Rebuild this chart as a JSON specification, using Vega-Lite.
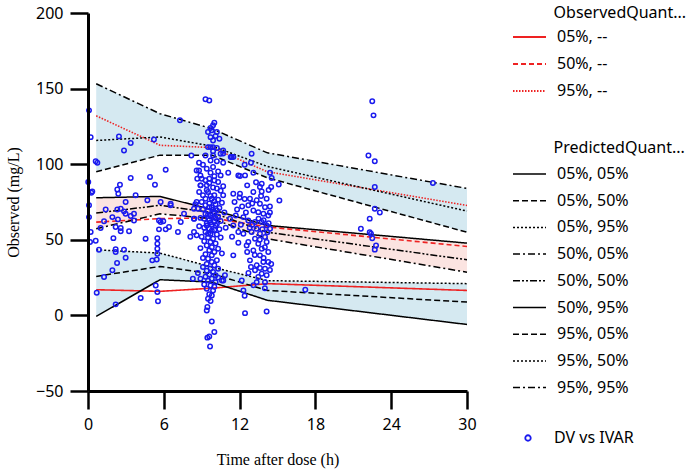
{
  "$schema": "https://vega.github.io/schema/vega-lite/v6.json",
  "width": 379,
  "height": 378,
  "autosize": "none",
  "padding": {"left": 88, "top": 13, "right": 232, "bottom": 80},
  "background": "white",
  "datasets": {
    "bands": [
      {"t":0.65,"band":"upper","lo":95,"hi":153.2},{"t":5.7,"band":"upper","lo":106,"hi":133.4},{"t":9.8,"band":"upper","lo":106,"hi":123.5},{"t":14.2,"band":"upper","lo":91,"hi":107.5},{"t":30,"band":"upper","lo":55,"hi":84},
      {"t":0.65,"band":"mid","lo":57.3,"hi":77.8},{"t":5.7,"band":"mid","lo":67.2,"hi":78.7},{"t":9.8,"band":"mid","lo":64,"hi":70},{"t":14.2,"band":"mid","lo":50.7,"hi":59.5},{"t":30,"band":"mid","lo":28.6,"hi":47.8},
      {"t":0.65,"band":"lower","lo":-0.7,"hi":43.4},{"t":5.7,"band":"lower","lo":23.6,"hi":41.2},{"t":9.8,"band":"lower","lo":22,"hi":32},{"t":14.2,"band":"lower","lo":10,"hi":23},{"t":30,"band":"lower","lo":-6,"hi":21}
    ],
    "obs": [
      {"t":0.65,"q":"05%, --","v":17},{"t":5.7,"q":"05%, --","v":15.9},{"t":9.8,"q":"05%, --","v":18},{"t":14.2,"q":"05%, --","v":21},{"t":30,"q":"05%, --","v":16.5},
      {"t":0.65,"q":"50%, --","v":61.7},{"t":5.7,"q":"50%, --","v":64},{"t":9.8,"q":"50%, --","v":64.5},{"t":14.2,"q":"50%, --","v":58.5},{"t":30,"q":"50%, --","v":45.6},
      {"t":0.65,"q":"95%, --","v":132},{"t":5.7,"q":"95%, --","v":112.5},{"t":9.8,"q":"95%, --","v":111},{"t":14.2,"q":"95%, --","v":95},{"t":30,"q":"95%, --","v":72.7}
    ],
    "pred": [
      {"t":0.65,"q":"05%, 05%","v":-0.7},{"t":5.7,"q":"05%, 05%","v":23.6},{"t":9.8,"q":"05%, 05%","v":22},{"t":14.2,"q":"05%, 05%","v":10},{"t":30,"q":"05%, 05%","v":-6},
      {"t":0.65,"q":"05%, 50%","v":25.8},{"t":5.7,"q":"05%, 50%","v":32.4},{"t":9.8,"q":"05%, 50%","v":27.6},{"t":14.2,"q":"05%, 50%","v":16.5},{"t":30,"q":"05%, 50%","v":8.8},
      {"t":0.65,"q":"05%, 95%","v":43.4},{"t":5.7,"q":"05%, 95%","v":41.2},{"t":9.8,"q":"05%, 95%","v":32},{"t":14.2,"q":"05%, 95%","v":23},{"t":30,"q":"05%, 95%","v":21},
      {"t":0.65,"q":"50%, 05%","v":57.3},{"t":5.7,"q":"50%, 05%","v":67.2},{"t":9.8,"q":"50%, 05%","v":64},{"t":14.2,"q":"50%, 05%","v":50.7},{"t":30,"q":"50%, 05%","v":28.6},
      {"t":0.65,"q":"50%, 50%","v":67.7},{"t":5.7,"q":"50%, 50%","v":72.8},{"t":9.8,"q":"50%, 50%","v":68},{"t":14.2,"q":"50%, 50%","v":55},{"t":30,"q":"50%, 50%","v":36.8},
      {"t":0.65,"q":"50%, 95%","v":77.8},{"t":5.7,"q":"50%, 95%","v":78.7},{"t":9.8,"q":"50%, 95%","v":70},{"t":14.2,"q":"50%, 95%","v":59.5},{"t":30,"q":"50%, 95%","v":47.8},
      {"t":0.65,"q":"95%, 05%","v":95},{"t":5.7,"q":"95%, 05%","v":106},{"t":9.8,"q":"95%, 05%","v":106},{"t":14.2,"q":"95%, 05%","v":91},{"t":30,"q":"95%, 05%","v":55},
      {"t":0.65,"q":"95%, 50%","v":115.7},{"t":5.7,"q":"95%, 50%","v":118},{"t":9.8,"q":"95%, 50%","v":112},{"t":14.2,"q":"95%, 50%","v":98.5},{"t":30,"q":"95%, 50%","v":69},
      {"t":0.65,"q":"95%, 95%","v":153.2},{"t":5.7,"q":"95%, 95%","v":133.4},{"t":9.8,"q":"95%, 95%","v":123.5},{"t":14.2,"q":"95%, 95%","v":107.5},{"t":30,"q":"95%, 95%","v":84}
    ],
    "pts": [
      {"t":0.08,"v":135.6},{"t":0.21,"v":117.9},{"t":0.61,"v":101.9},{"t":0.74,"v":101.0},{"t":0.02,"v":88.2},{"t":0.34,"v":82.0},{"t":0.26,"v":81.1},{"t":0.08,"v":72.8},{"t":0.08,"v":65.0},{"t":0.21,"v":55.1},{"t":0.61,"v":49.4},{"t":0.16,"v":48.5},{"t":0.69,"v":15.0},
      {"t":2.45,"v":118.4},{"t":3.38,"v":114.0},{"t":2.85,"v":109.1},{"t":5.22,"v":116.4},{"t":7.28,"v":129.0},{"t":8.18,"v":105.8},{"t":6.15,"v":96.3},{"t":8.79,"v":101.0},{"t":8.79,"v":95.9},{"t":8.65,"v":90.4},{"t":8.92,"v":86.0},
      {"t":3.38,"v":90.8},{"t":2.53,"v":86.4},{"t":4.91,"v":91.5},{"t":5.30,"v":86.4},{"t":2.32,"v":83.3},{"t":2.40,"v":80.5},{"t":3.77,"v":79.4},{"t":4.70,"v":76.1},{"t":5.75,"v":75.0},{"t":6.54,"v":73.9},{"t":2.98,"v":75.0},{"t":2.59,"v":70.5},{"t":1.40,"v":70.1},{"t":2.85,"v":68.8},{"t":3.64,"v":67.2},{"t":2.98,"v":67.2},{"t":3.38,"v":65.7},{"t":1.93,"v":65.0},{"t":2.37,"v":63.5},{"t":3.64,"v":62.8},{"t":1.27,"v":62.2},{"t":5.75,"v":61.7},{"t":5.62,"v":62.8},{"t":5.96,"v":62.2},{"t":1.00,"v":57.8},{"t":2.59,"v":57.8},{"t":2.19,"v":58.4},{"t":3.25,"v":55.6},{"t":2.59,"v":55.6},{"t":6.41,"v":58.4},{"t":6.15,"v":56.9},{"t":5.62,"v":56.9},{"t":7.12,"v":55.1},{"t":8.39,"v":55.1},{"t":2.01,"v":51.1},{"t":4.56,"v":50.7},{"t":5.49,"v":51.1},{"t":5.49,"v":47.4},{"t":5.49,"v":44.1},{"t":0.87,"v":43.4},{"t":2.19,"v":43.7},{"t":2.85,"v":43.4},{"t":2.19,"v":41.9},{"t":5.49,"v":40.8},{"t":2.98,"v":38.1},{"t":5.44,"v":37.0},{"t":5.09,"v":36.4},{"t":1.93,"v":29.8},{"t":1.27,"v":25.4},{"t":5.36,"v":19.8},{"t":4.17,"v":11.5},{"t":2.19,"v":7.3},{"t":5.49,"v":15.4},{"t":5.54,"v":9.3},{"t":7.60,"v":67.2},{"t":7.34,"v":61.7},{"t":8.39,"v":63.9},{"t":8.39,"v":70.5},{"t":6.54,"v":72.8},{"t":2.32,"v":70.1},{"t":2.3,"v":34.6},
      {"t":9.3,"v":142.9},{"t":9.6,"v":142.2},{"t":10.0,"v":127.4},{"t":9.9,"v":125.7},{"t":9.7,"v":123.9},{"t":9.8,"v":122.4},{"t":10.2,"v":121.3},{"t":9.5,"v":121.3},{"t":10.1,"v":118.6},{"t":9.7,"v":117.9},{"t":10.4,"v":116.8},{"t":9.9,"v":115.7},{"t":9.5,"v":111.3},{"t":9.7,"v":111.3},{"t":9.9,"v":111.3},{"t":10.2,"v":110.7},{"t":9.9,"v":108.5},{"t":10.7,"v":109},{"t":9.3,"v":105.8},{"t":9.9,"v":105.8},{"t":10.5,"v":106.9},{"t":11.3,"v":104.7},{"t":9.7,"v":102.5},{"t":10.2,"v":101.9},{"t":10.7,"v":101},{"t":9.1,"v":99.6},{"t":8.6,"v":95.9},{"t":9.4,"v":97},{"t":9.9,"v":98.1},{"t":10.3,"v":95.1},{"t":10.5,"v":92.6},{"t":8.9,"v":92.6},{"t":9.7,"v":94.4},{"t":11.1,"v":94.4},{"t":11.9,"v":92.6},{"t":9.0,"v":90.4},{"t":9.3,"v":89.4},{"t":9.6,"v":90.4},{"t":10.0,"v":89.2},{"t":10.3,"v":88.2},{"t":8.9,"v":86.0},{"t":9.4,"v":86.0},{"t":9.9,"v":84.6},{"t":10.7,"v":85.4},{"t":10.5,"v":82.5},{"t":8.8,"v":81.6},{"t":9.1,"v":79.4},{"t":9.5,"v":81.6},{"t":10.0,"v":79.4},{"t":10.7,"v":79.4},{"t":9.3,"v":77.2},{"t":9.8,"v":77.2},{"t":10.3,"v":76.5},{"t":8.6,"v":75.0},{"t":9.0,"v":75.0},{"t":9.6,"v":74.0},{"t":10.1,"v":73.5},{"t":10.6,"v":74.5},{"t":9.3,"v":72.8},{"t":9.8,"v":71.5},{"t":10.4,"v":71.0},{"t":8.7,"v":70.5},{"t":9.1,"v":70.0},{"t":9.5,"v":69.0},{"t":10.0,"v":68.3},{"t":10.2,"v":69.5},{"t":10.8,"v":68.0},{"t":9.3,"v":67.0},{"t":9.7,"v":66.1},{"t":9.9,"v":65.0},{"t":10.3,"v":65.5},{"t":8.9,"v":64.5},{"t":9.2,"v":63.9},{"t":9.6,"v":63.0},{"t":10.0,"v":62.0},{"t":10.5,"v":62.5},{"t":9.4,"v":61.0},{"t":9.8,"v":60.0},{"t":10.1,"v":59.5},{"t":8.8,"v":59.0},{"t":9.2,"v":58.0},{"t":9.6,"v":57.3},{"t":10.0,"v":56.5},{"t":10.4,"v":57.0},{"t":10.9,"v":58.0},{"t":9.3,"v":55.1},{"t":9.7,"v":54.0},{"t":10.2,"v":53.5},{"t":8.6,"v":53.0},{"t":9.0,"v":52.0},{"t":9.5,"v":51.5},{"t":9.9,"v":50.7},{"t":10.5,"v":51.5},{"t":9.2,"v":49.0},{"t":9.7,"v":48.5},{"t":10.1,"v":47.5},{"t":9.4,"v":46.3},{"t":9.8,"v":45.0},{"t":10.3,"v":44.1},{"t":8.9,"v":44.5},{"t":9.6,"v":43.0},{"t":10.0,"v":41.9},{"t":9.3,"v":40.5},{"t":9.8,"v":39.7},{"t":10.6,"v":41.0},{"t":9.1,"v":38.0},{"t":9.5,"v":37.5},{"t":10.2,"v":36.5},{"t":9.8,"v":35.3},{"t":9.4,"v":34.0},{"t":10.0,"v":33.1},{"t":9.1,"v":32.0},{"t":9.7,"v":31.0},{"t":10.3,"v":30.9},{"t":9.4,"v":29.5},{"t":9.9,"v":28.7},{"t":8.7,"v":28.0},{"t":9.6,"v":27.0},{"t":10.1,"v":26.5},{"t":9.3,"v":25.5},{"t":9.8,"v":24.3},{"t":8.3,"v":24.3},{"t":8.9,"v":24.3},{"t":9.5,"v":23.0},{"t":10.1,"v":22.0},{"t":9.2,"v":20.5},{"t":9.7,"v":19.8},{"t":10.0,"v":19.0},{"t":9.4,"v":17.6},{"t":9.9,"v":16.5},{"t":9.6,"v":14.0},{"t":9.8,"v":13.2},{"t":9.5,"v":11.0},{"t":9.7,"v":9.5},{"t":9.45,"v":5.5},{"t":9.4,"v":3.3},{"t":9.8,"v":-4.0},{"t":10.0,"v":-11.0},{"t":9.45,"v":-14.7},{"t":9.6,"v":-14.0},{"t":9.66,"v":-20.5},{"t":10.3,"v":25.0},{"t":10.6,"v":23.0},{"t":8.5,"v":73.5},{"t":8.4,"v":64},{"t":8.1,"v":52},{"t":9.4,"v":59.5},{"t":9.7,"v":61.5},{"t":10.1,"v":64.5},{"t":9.5,"v":66.5},{"t":9.9,"v":70.0},{"t":9.6,"v":71.5},{"t":10.2,"v":60.5},{"t":9.8,"v":56.0},{"t":9.5,"v":54.0},{"t":10.0,"v":75.5},{"t":9.7,"v":79.0},{"t":9.4,"v":83.0},{"t":10.2,"v":84.0},{"t":9.6,"v":87.5},{"t":10.0,"v":92.0},
      {"t":12.95,"v":106.9},{"t":11.37,"v":104.7},{"t":14.41,"v":94.4},{"t":13.09,"v":94.4},{"t":12.43,"v":92.6},{"t":12.03,"v":92.2},{"t":13.75,"v":87.1},{"t":13.61,"v":84.9},{"t":14.54,"v":90.8},{"t":15.1,"v":86.6},{"t":15.15,"v":76},{"t":12.4,"v":99.7},{"t":14.5,"v":84.9},{"t":10.7,"v":107},{"t":11.5,"v":104.7},{"t":12.9,"v":101},
      {"t":11.5,"v":80.5},{"t":12.03,"v":80.5},{"t":13.09,"v":81.6},{"t":13.75,"v":82.0},{"t":14.14,"v":77.2},{"t":12.82,"v":77.2},{"t":13.35,"v":76.1},{"t":13.61,"v":73.9},{"t":14.01,"v":71.6},{"t":12.69,"v":72.8},{"t":13.09,"v":69.4},{"t":13.48,"v":68.3},{"t":13.88,"v":67.2},{"t":14.27,"v":66.1},{"t":12.3,"v":65.0},{"t":12.69,"v":62.8},{"t":13.22,"v":61.7},{"t":13.75,"v":61.7},{"t":14.14,"v":59.5},{"t":14.41,"v":57.3},{"t":13.35,"v":57.3},{"t":12.95,"v":55.1},{"t":12.3,"v":54.0},{"t":11.9,"v":55.1},{"t":11.5,"v":59.5},{"t":11.24,"v":63.9},{"t":13.61,"v":54.0},{"t":14.01,"v":51.8},{"t":13.22,"v":50.7},{"t":12.69,"v":48.5},{"t":13.48,"v":47.4},{"t":14.14,"v":48.5},{"t":13.75,"v":44.1},{"t":13.09,"v":43.0},{"t":12.56,"v":46.3},{"t":14.27,"v":41.9},{"t":13.61,"v":39.7},{"t":11.5,"v":39.7},{"t":12.82,"v":36.4},{"t":13.88,"v":35.3},{"t":14.27,"v":35.3},{"t":13.35,"v":33.1},{"t":13.61,"v":31.3},{"t":14.01,"v":30.9},{"t":13.22,"v":29.8},{"t":13.75,"v":27.6},{"t":13.48,"v":25.4},{"t":14.14,"v":26.5},{"t":14.01,"v":22.0},{"t":13.35,"v":22.0},{"t":12.17,"v":23.1},{"t":12.3,"v":16.5},{"t":12.43,"v":1.5},{"t":14.14,"v":2.6},{"t":10.84,"v":26.5},{"t":10.71,"v":23.1},
      {"t":12.8,"v":58},{"t":13.0,"v":60},{"t":13.5,"v":64},{"t":13.9,"v":63},{"t":14.3,"v":61},{"t":14.2,"v":55},{"t":13.8,"v":57},{"t":12.5,"v":68},{"t":12.2,"v":72},{"t":11.8,"v":70},{"t":11.6,"v":75},{"t":12.0,"v":78},{"t":13.0,"v":74},{"t":13.7,"v":79},{"t":14.4,"v":72},{"t":14.0,"v":45},{"t":13.2,"v":40},{"t":12.6,"v":42},{"t":13.9,"v":38},{"t":14.5,"v":34},{"t":12.9,"v":32},{"t":11.9,"v":48},{"t":11.4,"v":52},{"t":11.7,"v":66},{"t":14.3,"v":83},{"t":13.3,"v":88},{"t":12.6,"v":86},{"t":12.1,"v":60},{"t":13.6,"v":50},{"t":14.4,"v":68},{"t":12.4,"v":77},{"t":14.4,"v":30},{"t":13.1,"v":20},{"t":12.4,"v":13},{"t":14.0,"v":18},{"t":12.7,"v":28},
      {"t":17.2,"v":17},{"t":21.6,"v":57.3},{"t":22.3,"v":55},{"t":22.4,"v":54},{"t":22.5,"v":51},{"t":22.8,"v":46.3},{"t":22.7,"v":43.5},{"t":22.3,"v":64},{"t":22.7,"v":70.5},{"t":23.1,"v":68.1},{"t":22.7,"v":84.9},{"t":22.2,"v":105.8},{"t":22.7,"v":102},{"t":22.5,"v":141.7},{"t":22.6,"v":132.3},{"t":27.3,"v":87.5}
    ]
  },
  "layer": [
    {
      "data": {"name": "bands"},
      "mark": {"type": "area", "opacity": 1},
      "encoding": {
        "x": {"field": "t", "type": "quantitative", "scale": {"domain": [0, 30], "nice": false, "zero": false},
          "axis": {"orient": "bottom", "values": [0, 3, 6, 9, 12, 15, 18, 21, 24, 27, 30],
            "tickSize": {"condition": {"test": "datum.value % 6 === 0", "value": 18}, "value": 9},
            "labelExpr": "datum.value % 6 === 0 ? datum.label : ''",
            "domain": true, "ticks": true, "zindex": 2,
            "domainColor": "#000000", "domainWidth": 3, "tickColor": "#000000", "tickWidth": 2.5,
            "title": "Time after dose (h)", "titlePadding": 19, "labelFlush": false, "labelOverlap": false}},
        "y": {"field": "lo", "type": "quantitative", "scale": {"domain": [-50, 200], "nice": false, "zero": false},
          "axis": {"orient": "left", "values": [-50, -25, 0, 25, 50, 75, 100, 125, 150, 175, 200],
            "tickSize": {"condition": {"test": "datum.value % 50 === 0", "value": 18}, "value": 9},
            "labelExpr": "datum.value % 50 === 0 ? datum.label : ''",
            "domain": true, "ticks": true, "zindex": 2,
            "domainColor": "#000000", "domainWidth": 3, "tickColor": "#000000", "tickWidth": 2.5,
            "title": "Observed (mg/L)", "titlePadding": 14, "labelFlush": false, "labelOverlap": false}},
        "y2": {"field": "hi"},
        "fill": {"field": "band", "type": "nominal", "scale": {"domain": ["lower", "mid", "upper"], "range": ["#d5e9f1", "#fbe4e1", "#d5e9f1"]}, "legend": null},
        "detail": {"field": "band"}
      }
    },
    {
      "data": {"name": "obs"},
      "mark": {"type": "line", "color": "#ee2222", "strokeWidth": 1.6},
      "encoding": {
        "x": {"field": "t", "type": "quantitative"},
        "y": {"field": "v", "type": "quantitative"},
        "strokeDash": {"field": "q", "type": "nominal",
          "scale": {"domain": ["05%, --", "50%, --", "95%, --"], "range": [[1, 0], [5, 3], [1.5, 1.5]]},
          "legend": {"orient": "none", "legendX": 424, "legendY": -8, "title": "\u200b\u00a0\u00a0\u00a0\u00a0\u00a0\u00a0\u00a0\u00a0\u00a0\u00a0ObservedQuant...", "symbolType": "stroke", "symbolSize": 1089, "symbolStrokeWidth": 1.8, "clipHeight": 16, "rowPadding": 11, "labelOffset": 10, "titlePadding": 8}
        }
      }
    },
    {
      "data": {"name": "pred"},
      "mark": {"type": "line", "color": "black", "strokeWidth": 1.5},
      "encoding": {
        "x": {"field": "t", "type": "quantitative"},
        "y": {"field": "v", "type": "quantitative"},
        "strokeDash": {"field": "q", "type": "nominal",
          "scale": {"domain": ["05%, 05%", "05%, 50%", "05%, 95%", "50%, 05%", "50%, 50%", "50%, 95%", "95%, 05%", "95%, 50%", "95%, 95%"],
            "range": [[1, 0], [6, 3], [2, 2], [7, 3, 2, 3], [7, 2, 2, 2, 2, 2], [1, 0], [6, 3], [2, 2], [7, 3, 2, 3]]},
          "legend": {"orient": "none", "legendX": 424, "legendY": 127, "title": "\u200b\u00a0\u00a0\u00a0\u00a0\u00a0\u00a0\u00a0\u00a0\u00a0\u00a0PredictedQuant...", "symbolType": "stroke", "symbolSize": 1089, "symbolStrokeWidth": 1.5, "clipHeight": 16, "rowPadding": 10.7, "labelOffset": 10, "titlePadding": 10}
        }
      }
    },
    {
      "data": {"name": "pts"},
      "transform": [{"calculate": "'DV vs IVAR'", "as": "s"}],
      "mark": {"type": "point", "filled": false, "color": "#1a1aee", "size": 20, "strokeWidth": 1.5, "opacity": 1},
      "encoding": {
        "x": {"field": "t", "type": "quantitative"},
        "y": {"field": "v", "type": "quantitative"},
        "shape": {"field": "s", "type": "nominal", "scale": {"range": ["circle"]},
          "legend": {"orient": "none", "legendX": 424, "legendY": 417, "title": null, "symbolSize": 30, "symbolStrokeWidth": 1.8, "symbolOffset": 8, "labelOffset": 18, "clipHeight": 16}
        }
      }
    }
  ],
  "resolve": {"scale": {"strokeDash": "independent"}},
  "config": {
    "view": {"stroke": null},
    "axis": {
      "grid": false,
      "labelFont": "Noto Sans", "labelFontSize": 16, "labelColor": "black", "labelPadding": 7,
      "titleFont": "Liberation Serif", "titleFontSize": 16, "titleFontWeight": "normal", "titleColor": "black"
    },
    "legend": {
      "labelFont": "Noto Sans", "labelFontSize": 16, "labelColor": "black",
      "titleFont": "Noto Sans", "titleFontSize": 16, "titleFontWeight": "normal", "titleColor": "black",
      "labelLimit": 300, "titleLimit": 400
    }
  }
}
